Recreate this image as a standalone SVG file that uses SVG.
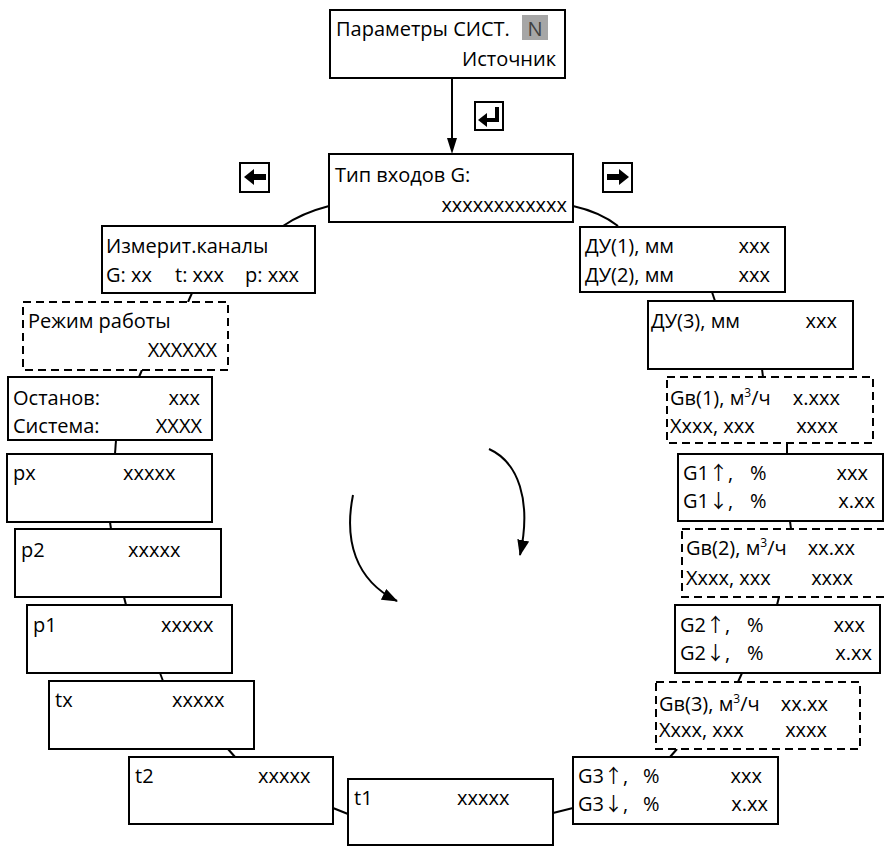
<svg xmlns="http://www.w3.org/2000/svg" width="884" height="847" viewBox="0 0 884 847">
<defs>
<style>
.box{fill:#fff;stroke:#000;stroke-width:2}
.dbox{fill:#fff;stroke:#000;stroke-width:2;stroke-dasharray:8 5}
.t{font-family:"Open Sans","Liberation Sans",sans-serif;font-size:20px;fill:#000}
.e{text-anchor:end}
.con{stroke:#000;stroke-width:2;fill:none}
.ic{fill:#fff;stroke:#000;stroke-width:2}
.sup{font-size:12px}
.ar{font-family:"Noto Sans CJK SC","DejaVu Sans",sans-serif;font-size:19px}
</style>
<marker id="ah" markerWidth="16" markerHeight="12" refX="15" refY="6" orient="auto" markerUnits="userSpaceOnUse">
<path d="M0,0 L16,6 L0,12 Z" fill="#000"/>
</marker>
</defs>
<rect width="884" height="847" fill="#fff"/>

<g id="connectors">
<line class="con" x1="452" y1="78" x2="452" y2="140"/>
<polygon points="447,138 457,138 452,154" fill="#000"/>
<path class="con" d="M329,206 Q302,213 283,226"/>
<path class="con" d="M573,206 Q600,212 618,226"/>
<line class="con" x1="192" y1="293" x2="188" y2="302"/>
<line class="con" x1="142" y1="370" x2="139" y2="377"/>
<line class="con" x1="116" y1="440" x2="115" y2="454"/>
<line class="con" x1="110" y1="522" x2="111" y2="529"/>
<line class="con" x1="124" y1="597" x2="126" y2="605"/>
<line class="con" x1="160" y1="673" x2="163" y2="681"/>
<line class="con" x1="228" y1="749" x2="235" y2="757"/>
<line class="con" x1="333" y1="808" x2="348" y2="814"/>
<line class="con" x1="553" y1="813" x2="573" y2="808"/>
<line class="con" x1="670" y1="757" x2="677" y2="749"/>
<line class="con" x1="738" y1="682" x2="742" y2="673"/>
<line class="con" x1="777" y1="605" x2="779" y2="597"/>
<line class="con" x1="791" y1="529" x2="790" y2="521"/>
<line class="con" x1="787" y1="454" x2="787" y2="443"/>
<line class="con" x1="763" y1="377" x2="762" y2="369"/>
<line class="con" x1="715" y1="301" x2="712" y2="292"/>
<path class="con" stroke-width="1.5" d="M353,495 C344,540 355,580 397,601" marker-end="url(#ah)"/>
<path class="con" stroke-width="1.5" d="M489,449 C518,462 532,500 520,555" marker-end="url(#ah)"/>
</g>

<g id="icon-enter">
<rect class="ic" x="475" y="102" width="28" height="28"/>
<path d="M497,107 V120 H485" fill="none" stroke="#000" stroke-width="4"/>
<polygon points="478,120 487,113 487,127" fill="#000"/>
</g>
<g id="icon-left">
<rect class="ic" x="240" y="163" width="29" height="29"/>
<polygon points="244,177 254,169 254,174 266,174 266,180 254,180 254,185" fill="#000"/>
</g>
<g id="icon-right">
<rect class="ic" x="603" y="163" width="29" height="29"/>
<polygon points="629,177 619,169 619,174 607,174 607,180 619,180 619,185" fill="#000"/>
</g>

<g id="n-params">
<rect class="box" x="330" y="10" width="235" height="68"/>
<rect x="522" y="15" width="26" height="25" fill="#a6a6a6"/>
<text class="t" x="336" y="36" font-size="21">Параметры СИСТ.</text>
<text class="t" x="535" y="36" text-anchor="middle" style="fill:#404040">N</text>
<text class="t e" x="556" y="66" font-size="21">Источник</text>
</g>

<g id="n-type">
<rect class="box" x="329" y="154" width="244" height="68"/>
<text class="t" x="335" y="182">Тип входов G:</text>
<text class="t e" x="567" y="212">xxxxxxxxxxxx</text>
</g>

<g id="n-izm">
<rect class="box" x="102" y="226" width="213" height="67"/>
<text class="t" x="106" y="253" font-size="21">Измерит.каналы</text>
<text class="t" y="282"><tspan x="106">G: xx</tspan><tspan x="175">t: xxx</tspan><tspan x="245">p: xxx</tspan></text>
</g>

<g id="n-mode">
<rect class="dbox" x="23" y="302" width="205" height="68"/>
<text class="t" x="28" y="328">Режим работы</text>
<text class="t e" x="217" y="357">XXXXXX</text>
</g>

<g id="n-stop">
<rect class="box" x="8" y="377" width="204" height="63"/>
<text class="t" x="13" y="405">Останов:</text>
<text class="t e" x="200" y="405">xxx</text>
<text class="t" x="13" y="433">Система:</text>
<text class="t e" x="202" y="433">XXXX</text>
</g>

<g id="n-px">
<rect class="box" x="7" y="454" width="205" height="68"/>
<text class="t" x="13" y="480">px</text>
<text class="t" x="123" y="480">xxxxx</text>
</g>

<g id="n-p2">
<rect class="box" x="15" y="529" width="206" height="68"/>
<text class="t" x="21" y="557">p2</text>
<text class="t" x="128" y="557">xxxxx</text>
</g>

<g id="n-p1">
<rect class="box" x="27" y="605" width="205" height="68"/>
<text class="t" x="33" y="632">p1</text>
<text class="t" x="161" y="632">xxxxx</text>
</g>

<g id="n-tx">
<rect class="box" x="49" y="681" width="205" height="68"/>
<text class="t" x="55" y="707">tx</text>
<text class="t" x="172" y="707">xxxxx</text>
</g>

<g id="n-t2">
<rect class="box" x="129" y="757" width="204" height="67"/>
<text class="t" x="135" y="783">t2</text>
<text class="t" x="258" y="783">xxxxx</text>
</g>

<g id="n-t1">
<rect class="box" x="348" y="779" width="205" height="66"/>
<text class="t" x="354" y="805">t1</text>
<text class="t" x="457" y="805">xxxxx</text>
</g>

<g id="n-du12">
<rect class="box" x="580" y="227" width="205" height="65"/>
<text class="t" x="585" y="253">ДУ(1), мм</text>
<text class="t e" x="770" y="253">xxx</text>
<text class="t" x="585" y="282">ДУ(2), мм</text>
<text class="t e" x="770" y="282">xxx</text>
</g>

<g id="n-du3">
<rect class="box" x="648" y="301" width="205" height="68"/>
<text class="t" x="651" y="328">ДУ(3), мм</text>
<text class="t e" x="837" y="328">xxx</text>
</g>

<g id="n-gv1">
<rect class="dbox" x="667" y="377" width="206" height="66"/>
<text class="t" x="670" y="405">Gв(1), м<tspan class="sup" dy="-8">3</tspan><tspan dy="8">/ч</tspan></text>
<text class="t e" x="840" y="405">x.xxx</text>
<text class="t" x="670" y="433">Xxxx, xxx</text>
<text class="t e" x="838" y="433">xxxx</text>
</g>

<g id="n-g1">
<rect class="box" x="678" y="454" width="205" height="67"/>
<text class="t" x="683" y="480">G1<tspan class="ar">↑</tspan>,</text>
<text class="t" x="750" y="480">%</text>
<text class="t e" x="868" y="480">xxx</text>
<text class="t" x="683" y="508">G1<tspan class="ar">↓</tspan>,</text>
<text class="t" x="750" y="508">%</text>
<text class="t e" x="875" y="508">x.xx</text>
</g>

<g id="n-gv2">
<rect class="dbox" x="682" y="529" width="210" height="68"/>
<text class="t" x="686" y="555">Gв(2), м<tspan class="sup" dy="-8">3</tspan><tspan dy="8">/ч</tspan></text>
<text class="t e" x="855" y="555">xx.xx</text>
<text class="t" x="686" y="585">Xxxx, xxx</text>
<text class="t e" x="853" y="585">xxxx</text>
</g>

<g id="n-g2">
<rect class="box" x="675" y="605" width="205" height="68"/>
<text class="t" x="680" y="632">G2<tspan class="ar">↑</tspan>,</text>
<text class="t" x="747" y="632">%</text>
<text class="t e" x="865" y="632">xxx</text>
<text class="t" x="680" y="660">G2<tspan class="ar">↓</tspan>,</text>
<text class="t" x="747" y="660">%</text>
<text class="t e" x="872" y="660">x.xx</text>
</g>

<g id="n-gv3">
<rect class="dbox" x="656" y="682" width="204" height="67"/>
<text class="t" x="659" y="711">Gв(3), м<tspan class="sup" dy="-8">3</tspan><tspan dy="8">/ч</tspan></text>
<text class="t e" x="828" y="711">xx.xx</text>
<text class="t" x="659" y="737">Xxxx, xxx</text>
<text class="t e" x="827" y="737">xxxx</text>
</g>

<g id="n-g3">
<rect class="box" x="573" y="757" width="205" height="67"/>
<text class="t" x="578" y="783">G3<tspan class="ar">↑</tspan>,</text>
<text class="t" x="643" y="783">%</text>
<text class="t e" x="762" y="783">xxx</text>
<text class="t" x="578" y="811">G3<tspan class="ar">↓</tspan>,</text>
<text class="t" x="643" y="811">%</text>
<text class="t e" x="768" y="811">x.xx</text>
</g>
</svg>
